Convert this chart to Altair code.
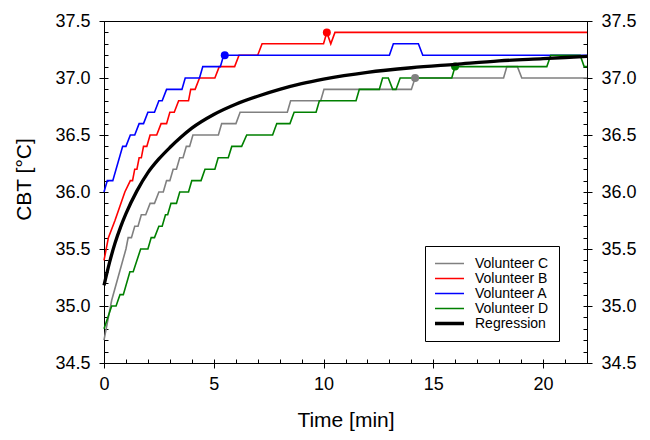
import altair as alt
import pandas as pd

# ---------------- data ----------------
series_names = ["Volunteer C", "Volunteer B", "Volunteer A", "Volunteer D", "Regression"]
series_colors = ["#808080", "#ff0000", "#0000ff", "#008000", "#000000"]
thin_width = 1.6
thick_width = 3.3

c_time = [0, 0.35, 1.0, 1.1, 1.25, 1.4, 1.55, 1.7, 1.9, 2.1, 2.3, 2.5, 2.7, 2.85, 3.0, 3.15, 3.3,
          3.45, 3.6, 3.75, 3.9, 4.05, 5.21, 5.36, 6.01, 6.2, 8.35, 8.5, 9.87, 10.02, 14.0, 14.17,
          18.2, 18.35, 18.83, 19.03, 22]
c_temp = [34.7, 35.05, 35.5, 35.6, 35.6, 35.7, 35.7, 35.8, 35.8, 35.9, 35.9, 36.0, 36.0, 36.1, 36.1,
          36.2, 36.2, 36.3, 36.3, 36.4, 36.4, 36.5, 36.5, 36.6, 36.6, 36.7, 36.7, 36.8, 36.8, 36.9,
          36.9, 37.0, 37.0, 37.1, 37.1, 37.0, 37.0]

b_time = [0, 0.2, 0.5, 0.95, 1.2, 1.3, 1.4, 1.5, 1.6, 1.7, 1.8, 1.95, 2.1, 2.4, 2.6, 2.85, 3.0, 3.2,
          3.4, 3.85, 3.95, 4.15, 4.35, 5.05, 5.25, 5.95, 6.15, 7.0, 7.2, 10.0, 10.15, 10.33, 10.52, 22]
b_temp = [35.4, 35.6, 35.75, 36.0, 36.1, 36.1, 36.2, 36.2, 36.3, 36.3, 36.4, 36.4, 36.5, 36.5, 36.6,
          36.6, 36.7, 36.7, 36.8, 36.8, 36.9, 36.9, 37.0, 37.0, 37.1, 37.1, 37.2, 37.2, 37.3, 37.3,
          37.4, 37.3, 37.4, 37.4]

a_time = [0, 0.15, 0.4, 0.85, 1.0, 1.2, 1.4, 1.6, 1.8, 2.0, 2.3, 2.5, 2.65, 2.85, 3.55, 3.7, 4.35,
          4.5, 5.3, 5.45, 13.0, 13.18, 14.32, 14.52, 22]
a_temp = [36.0, 36.1, 36.1, 36.4, 36.4, 36.5, 36.5, 36.6, 36.6, 36.7, 36.7, 36.8, 36.8, 36.9, 36.9,
          37.0, 37.0, 37.1, 37.1, 37.2, 37.2, 37.3, 37.3, 37.2, 37.2]

d_time = [0, 0.35, 0.55, 0.73, 0.88, 1.18, 1.33, 1.67, 2.0, 2.15, 2.3, 2.5, 2.65, 2.8, 2.9, 3.05,
          3.3, 3.45, 3.85, 4.0, 4.42, 4.6, 5.05, 5.2, 5.66, 5.82, 6.27, 6.5, 7.68, 7.87, 8.47, 8.66,
          9.66, 9.81, 11.48, 11.63, 12.54, 12.69, 12.95, 13.15, 13.3, 13.49, 15.84, 15.99, 20.17,
          20.35, 21.69, 21.87, 22]
d_temp = [34.8, 35.0, 35.0, 35.1, 35.1, 35.3, 35.3, 35.5, 35.5, 35.6, 35.6, 35.7, 35.7, 35.8, 35.8,
          35.9, 35.9, 36.0, 36.0, 36.1, 36.1, 36.2, 36.2, 36.3, 36.3, 36.4, 36.4, 36.5, 36.5, 36.6,
          36.6, 36.7, 36.7, 36.8, 36.8, 36.9, 36.9, 37.0, 37.0, 36.9, 36.9, 37.0, 37.0, 37.1, 37.1,
          37.2, 37.2, 37.1, 37.1]

reg_time = [0, 0.25, 0.5, 0.75, 1, 1.5, 2, 2.5, 3, 3.5, 4, 5, 6, 7, 8, 9, 10, 12, 14, 16, 18, 20, 22]
reg_temp = [35.18, 35.38, 35.55, 35.69, 35.81, 36.01, 36.17, 36.29, 36.39, 36.48, 36.56, 36.68,
            36.77, 36.84, 36.90, 36.95, 36.99, 37.05, 37.09, 37.12, 37.15, 37.17, 37.19]

marker_series = ["Volunteer C", "Volunteer B", "Volunteer A", "Volunteer D"]
marker_time = [14.17, 10.15, 5.5, 15.99]
marker_temp = [37.0, 37.4, 37.2, 37.1]

x_major_ticks = [0, 5, 10, 15, 20]
x_minor_ticks = list(range(0, 23))
y_major_ticks = [34.5, 35.0, 35.5, 36.0, 36.5, 37.0, 37.5]
y_minor_ticks = [round(34.5 + 0.1 * i, 1) for i in range(31)]


def frame(name, times, temps):
    return pd.DataFrame({"series": name, "time": times, "temp": temps,
                         "idx": list(range(len(times)))})


df_c = frame("Volunteer C", c_time, c_temp)
df_b = frame("Volunteer B", b_time, b_temp)
df_a = frame("Volunteer A", a_time, a_temp)
df_d = frame("Volunteer D", d_time, d_temp)
df_r = frame("Regression", reg_time, reg_temp)
df_m = pd.DataFrame({"series": marker_series, "time": marker_time, "temp": marker_temp})

# ---------------- scales / axes ----------------
x_scale = alt.Scale(domain=[0, 22], nice=False, zero=False)
y_scale = alt.Scale(domain=[34.5, 37.5], nice=False, zero=False)
color_scale = alt.Scale(domain=series_names, range=series_colors)

legend = alt.Legend(
    orient="none", legendX=321, legendY=225, title=None, symbolType="stroke",
    symbolSize=900, strokeColor="black", fillColor="white", padding=10,
    rowPadding=0, clipHeight=15, labelFontSize=14, labelOffset=19, symbolOffset=7,
    cornerRadius=0, labelFont="Liberation Sans", labelColor="black",
    symbolStrokeWidth=alt.ExprRef(
        f"datum.value === 'Regression' ? {thick_width} : {thin_width}"),
)

x_major_axis = alt.Axis(orient="bottom", values=x_major_ticks, tickSize=5, labelPadding=7,
                        titlePadding=16, grid=False, labelFlush=False, format="d")
x_minor_axis = alt.Axis(orient="bottom", values=x_minor_ticks, tickSize=4, offset=-4,
                        labels=False, domain=False, grid=False)
y_left_major = alt.Axis(orient="left", values=y_major_ticks, format=".1f", tickSize=5,
                        labelPadding=9, titlePadding=20, titleY=158, grid=False, labelFlush=False)
y_left_minor = alt.Axis(orient="left", values=y_minor_ticks, tickSize=4, offset=-4,
                        labels=False, domain=False, grid=False)
y_right_major = alt.Axis(orient="right", values=y_major_ticks, format=".1f", tickSize=5,
                         labelPadding=9, grid=False, labelFlush=False)
y_right_minor = alt.Axis(orient="right", values=y_minor_ticks, tickSize=4, offset=-4,
                         labels=False, domain=False, grid=False)


def line_layer(df, x_axis, y_axis, width, interp="linear", x_title=None, y_title=None):
    return alt.Chart(df).mark_line(interpolate=interp, strokeWidth=width).encode(
        x=alt.X("time:Q", scale=x_scale, axis=x_axis, title=x_title),
        y=alt.Y("temp:Q", scale=y_scale, axis=y_axis, title=y_title),
        color=alt.Color("series:N", scale=color_scale, legend=legend),
        order="idx:Q",
    )


layer_c = line_layer(df_c, x_major_axis, y_left_major, thin_width,
                     x_title="Time [min]", y_title="CBT [°C]")
layer_b = line_layer(df_b, x_minor_axis, y_left_minor, thin_width)
layer_a = line_layer(df_a, None, y_right_major, thin_width)
layer_d = line_layer(df_d, None, y_right_minor, thin_width)

dots = alt.Chart(df_m).mark_circle(size=64, opacity=1).encode(
    x=alt.X("time:Q", scale=x_scale, axis=None),
    y=alt.Y("temp:Q", scale=y_scale, axis=None),
    color=alt.Color("series:N", scale=color_scale, legend=None),
)

layer_r = line_layer(df_r, None, None, thick_width, interp="monotone")

chart = alt.layer(layer_c, layer_b, layer_a, layer_d, dots, layer_r).resolve_axis(
    x="independent", y="independent"
).properties(
    width=483, height=342,
    autosize=alt.AutoSizeParams(type="none"),
    padding={"left": 96, "top": 13, "right": 55, "bottom": 69},
).configure_view(
    stroke="black", strokeWidth=1
).configure_axis(
    labelFont="Liberation Sans", titleFont="Liberation Sans", labelFontSize=18,
    titleFontSize=21, titleFontWeight="normal", labelColor="black", titleColor="black",
    domainColor="black", tickColor="black", domainWidth=1, tickWidth=1
).configure_legend(
    labelFont="Liberation Sans"
)

chart.save("out.html", embed_options={"renderer": "svg", "actions": False})
